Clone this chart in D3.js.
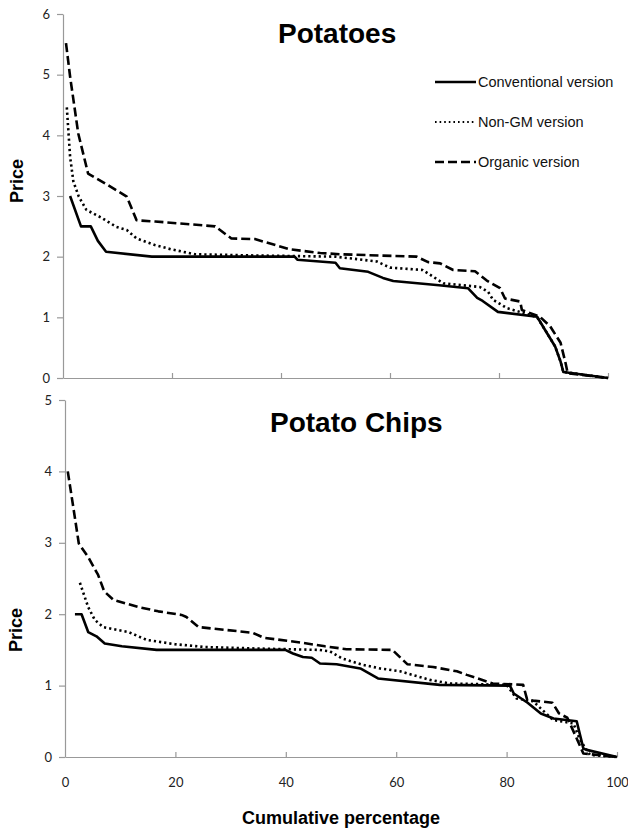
<!DOCTYPE html>
<html><head><meta charset="utf-8">
<script src="https://cdn.jsdelivr.net/npm/d3@7"></script>
<style>body{margin:0;background:#fff}</style>
</head><body>
<svg id="c" width="628" height="831"></svg>
<script>
// ---- data ----
const pctTicks = [0, 20, 40, 60, 80, 100];
const potatoesPriceTicks = [0, 1, 2, 3, 4, 5, 6];
const chipsPriceTicks = [0, 1, 2, 3, 4, 5];
const seriesNames = ["Conventional version", "Non-GM version", "Organic version"];
const panelTitles = ["Potatoes", "Potato Chips"];

// [cumulative %, price]
const potatoesConventional = [[1.3,3.0],[3.3,2.5],[5.1,2.5],[6.4,2.26],[7.9,2.08],[16.3,2.0],[42.5,2.0],[43,1.95],[50,1.9],[50.8,1.81],[56,1.75],[58.7,1.65],[60.6,1.6],[69,1.53],[74.3,1.48],[76,1.32],[77,1.27],[79.8,1.09],[87,1.01],[88.4,0.8],[90.3,0.52],[91.3,0.27],[91.8,0.1],[100,0]];
const potatoesNonGM = [[0.7,4.46],[1.3,3.65],[1.9,3.24],[2.9,2.99],[4.3,2.77],[7.1,2.64],[9.8,2.49],[11.7,2.44],[13.5,2.3],[16.9,2.19],[19.9,2.12],[24.2,2.04],[35,2.02],[50,2.0],[53,1.97],[57.6,1.92],[60,1.82],[66,1.78],[69.8,1.56],[76.5,1.5],[78,1.42],[78.9,1.29],[81.5,1.15],[85.7,1.04],[87,1.0],[88.4,0.8],[90.3,0.52],[91.3,0.27],[91.8,0.1],[100,0]];
const potatoesOrganic = [[0.55,5.52],[1.3,4.97],[2.8,4.03],[4.6,3.37],[7.7,3.21],[11.7,2.99],[13.5,2.6],[16.9,2.58],[27.9,2.5],[30.9,2.3],[35.2,2.29],[36.7,2.25],[41.7,2.12],[47.2,2.06],[50.8,2.04],[64.9,2.0],[67,1.91],[69.2,1.89],[71.6,1.78],[75.6,1.76],[77.7,1.61],[80.2,1.48],[81.1,1.31],[83.9,1.26],[84.2,1.12],[87.5,1.01],[89.4,0.85],[91.3,0.58],[92.2,0.25],[92.6,0.08],[100,0]];

const chipsConventional = [[1.8,2.0],[3.0,2.0],[4.2,1.75],[5.7,1.69],[7.2,1.59],[10.3,1.55],[16.6,1.5],[39.9,1.5],[41.3,1.45],[43.1,1.4],[44.7,1.39],[46.2,1.31],[49.2,1.3],[53.5,1.24],[55.1,1.17],[56.7,1.1],[67.9,1.01],[80.6,1.0],[81.3,0.89],[83.8,0.76],[86.2,0.61],[88.5,0.54],[92.7,0.5],[93.9,0.12],[94.5,0.1],[100,0]];
const chipsNonGM = [[2.7,2.44],[4.2,2.1],[5.4,1.92],[6.9,1.82],[11.5,1.75],[14.8,1.64],[19.9,1.58],[25.4,1.54],[34.4,1.52],[46,1.5],[48,1.48],[50.2,1.38],[54,1.29],[57.1,1.24],[60.7,1.2],[66.1,1.08],[69.7,1.03],[80,1.01],[81.8,0.82],[84.8,0.78],[88.4,0.52],[92.1,0.47],[93.3,0.24],[95.1,0.03],[100,0]];
const chipsOrganic = [[0.5,4.0],[1.5,3.5],[2.5,2.99],[4.2,2.8],[6.0,2.55],[7.1,2.32],[8.8,2.2],[13.3,2.1],[16.9,2.04],[21.1,1.99],[22,1.96],[24.2,1.82],[26.6,1.8],[34,1.74],[36,1.67],[43,1.6],[47.1,1.55],[51,1.51],[59.3,1.5],[62,1.3],[66.7,1.26],[71,1.2],[72.8,1.15],[77.5,1.03],[83,1.01],[83.7,0.81],[84.8,0.79],[88.3,0.76],[89.5,0.61],[91,0.55],[92.7,0.26],[93.9,0.05],[100,0]];

// ---- styles ----
const lineStyles = [
  {dash: null, width: 2.6},
  {dash: "2.2,3", width: 2.6},
  {dash: "9,4", width: 2.6}
];
const axisColor = "#999";
const tickFont = "Lato, 'Open Sans', sans-serif";
const boldFont = "'Liberation Sans', Arial, sans-serif";

const svg = d3.select("#c");
svg.append("rect").attr("width", 628).attr("height", 831).attr("fill", "#fff");

function panel(opt) {
  const x = d3.scaleLinear().domain([0, 100]).range(opt.xr);
  const y = d3.scaleLinear().domain([0, d3.max(opt.yTicks)]).range(opt.yr);
  const g = svg.append("g");

  const ya = g.append("g").attr("transform", `translate(${opt.xr[0]},0)`)
    .call(d3.axisLeft(y).tickValues(opt.yTicks).tickFormat(d3.format("d"))
      .tickSize(6).tickSizeOuter(0).tickPadding(7));
  const xa = g.append("g").attr("transform", `translate(0,${opt.yr[0]})`)
    .call(d3.axisBottom(x).tickValues(pctTicks).tickSize(-5).tickSizeOuter(0).tickPadding(21)
      .tickFormat(opt.xLabels ? d3.format("d") : () => ""));
  [ya, xa].forEach(a => {
    a.select(".domain").attr("stroke", axisColor).attr("stroke-width", 1.2);
    a.selectAll(".tick line").attr("stroke", axisColor).attr("stroke-width", 1.2);
    a.selectAll(".tick text").attr("fill", "#222").style("font-family", tickFont).style("font-size", "13px");
  });
  xa.selectAll(".tick").filter(d => d === 0).select("line").remove();

  const line = d3.line().x(d => x(d[0])).y(d => y(d[1]));
  opt.series.forEach((s, i) => {
    const st = lineStyles[i];
    g.append("path").datum(s).attr("d", line).attr("fill", "none")
      .attr("stroke", "#000").attr("stroke-width", st.width)
      .attr("stroke-dasharray", st.dash).attr("stroke-linejoin", "round");
  });

  g.append("text").attr("x", opt.titleX).attr("y", opt.titleY)
    .style("font-family", boldFont).style("font-weight", "bold").style("font-size", "28px")
    .attr("fill", "#000").text(opt.title);

  g.append("text").attr("transform", `translate(${opt.priceX},${opt.priceY}) rotate(-90)`)
    .attr("text-anchor", "middle").attr("dy", "0.35em")
    .style("font-family", boldFont).style("font-weight", "bold").style("font-size", "18px")
    .attr("fill", "#000").text("Price");
  return {x, y};
}

panel({xr: [63, 608], yr: [378, 14], yTicks: potatoesPriceTicks, xLabels: false,
  series: [potatoesConventional, potatoesNonGM, potatoesOrganic],
  title: panelTitles[0], titleX: 278, titleY: 43, priceX: 17, priceY: 181});

panel({xr: [65, 617], yr: [757, 400], yTicks: chipsPriceTicks, xLabels: true,
  series: [chipsConventional, chipsNonGM, chipsOrganic],
  title: panelTitles[1], titleX: 270, titleY: 432, priceX: 16, priceY: 630});

svg.append("text").attr("x", 341).attr("y", 818).attr("text-anchor", "middle").attr("dy", "0.35em")
  .style("font-family", boldFont).style("font-weight", "bold").style("font-size", "18px")
  .text("Cumulative percentage");

// legend
const legendY = [82, 122, 162];
const lg = svg.append("g");
seriesNames.forEach((n, i) => {
  const st = lineStyles[i];
  lg.append("line").attr("x1", 435).attr("x2", 476).attr("y1", legendY[i]).attr("y2", legendY[i])
    .attr("stroke", "#000").attr("stroke-width", i === 1 ? 2 : 2.6)
    .attr("stroke-dasharray", i === 1 ? "1.6,3" : st.dash);
  lg.append("text").attr("x", 478).attr("y", legendY[i]).attr("dy", "0.35em")
    .style("font-family", "'Liberation Sans', Arial, sans-serif").style("font-size", "14.5px")
    .attr("fill", "#111").text(n);
});
</script>
</body></html>
